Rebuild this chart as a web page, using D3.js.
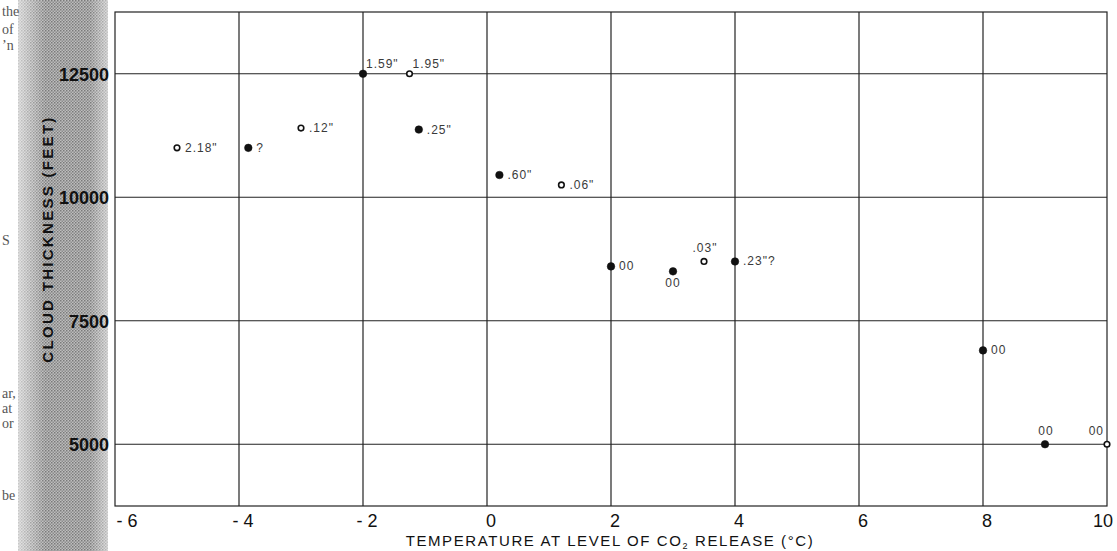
<!DOCTYPE html>
<html lang="en">
<head>
  <meta charset="UTF-8">
  <title>Cloud thickness vs temperature</title>
  <script src="https://d3js.org/d3.v7.min.js"></script>
  <style>
    html, body {
      margin: 0;
      padding: 0;
      background: #fff;
    }
    .grid line, .frame {
      stroke: #222;
      stroke-width: 1.2;
      fill: none;
    }
    .tick-y {
      font-family: "Liberation Sans", Arial, sans-serif;
      font-size: 18px;
      font-weight: bold;
      fill: #111;
    }
    .tick-x {
      font-family: "Liberation Sans", Arial, sans-serif;
      font-size: 18px;
      fill: #111;
    }
    .axis-title {
      font-family: "Liberation Sans", Arial, sans-serif;
      font-size: 15px;
      letter-spacing: 1.6px;
      fill: #111;
    }
    .axis-title.y-title {
      font-weight: bold;
      letter-spacing: 2.3px;
    }
    .pt-label {
      font-family: "Liberation Sans", Arial, sans-serif;
      font-size: 12px;
      letter-spacing: 1px;
      fill: #3a3a3a;
    }
    .margin-text {
      font-family: "Liberation Serif", serif;
      font-size: 14px;
      fill: #555;
    }
  </style>
</head>
<body>
  <div id="container"></div>
  <script>
    const width = 1117;
    const height = 551;

    // temperature at level of CO2 release (deg C) and cloud thickness (feet)
    const temps     = [-5, -3.85, -3, -2, -1.25, -1.1, 0.2, 1.2, 2, 3, 3.5, 4, 8, 9, 10];
    const thickness = [11000, 11000, 11400, 12500, 12500, 11370, 10450, 10250, 8600, 8500, 8700, 8700, 6900, 5000, 5000];
    const filled    = [false, true, false, true, false, true, true, false, true, true, false, true, true, true, false];
    const labels    = ['2.18"', '?', '.12"', '1.59"', '1.95"', '.25"', '.60"', '.06"', '00', '00', '.03"', '.23"?', '00', '00', '00'];

    const xTicks = [-6, -4, -2, 0, 2, 4, 6, 8, 10];
    const yTicks = [5000, 7500, 10000, 12500];

    // where each point's label sits relative to the point
    const labelPlace = ['r', 'r', 'r', 'ar', 'ar', 'r', 'r', 'r', 'r', 'b', 'a', 'r', 'r', 'a', 'al'];

    const svg = d3.select('#container').append('svg')
      .attr('width', width).attr('height', height);

    // scanned page margin on the left
    const defs = svg.append('defs');
    const pat = defs.append('pattern').attr('id', 'dither')
      .attr('width', 3).attr('height', 3).attr('patternUnits', 'userSpaceOnUse');
    pat.append('rect').attr('width', 3).attr('height', 3).attr('fill', '#bdbdbd');
    pat.append('rect').attr('width', 1.5).attr('height', 1.5).attr('fill', '#7a7a7a');
    pat.append('rect').attr('x', 1.5).attr('y', 1.5).attr('width', 1.5).attr('height', 1.5).attr('fill', '#8c8c8c');

    const fade = defs.append('linearGradient').attr('id', 'fade');
    fade.append('stop').attr('offset', '0%').attr('stop-color', '#fff').attr('stop-opacity', 0.6);
    fade.append('stop').attr('offset', '30%').attr('stop-color', '#fff').attr('stop-opacity', 0);
    fade.append('stop').attr('offset', '80%').attr('stop-color', '#fff').attr('stop-opacity', 0);
    fade.append('stop').attr('offset', '100%').attr('stop-color', '#fff').attr('stop-opacity', 0.5);

    svg.append('rect').attr('x', 18).attr('y', 0).attr('width', 90).attr('height', height)
      .attr('fill', 'url(#dither)');
    svg.append('rect').attr('x', 18).attr('y', 0).attr('width', 90).attr('height', height)
      .attr('fill', 'url(#fade)');

    const margins = [['the', 16], ['of', 34], ['\u2019n', 50], ['S', 245], ['ar,', 398], ['at', 413], ['or', 428], ['be', 500]];
    svg.selectAll('.margin-text').data(margins).join('text')
      .attr('class', 'margin-text')
      .attr('x', 2).attr('y', d => d[1]).text(d => d[0]);

    // plot area
    const x = d3.scaleLinear().domain([-6, 10]).range([115, 1107]);
    const y = d3.scaleLinear().domain([3750, 13750]).range([506, 12]);

    svg.append('rect').attr('class', 'frame')
      .attr('x', x(-6)).attr('y', y(13750))
      .attr('width', x(10) - x(-6)).attr('height', y(3750) - y(13750))
      .attr('fill', '#fff');

    const grid = svg.append('g').attr('class', 'grid');
    grid.selectAll('.vx').data(xTicks.slice(1, -1)).join('line')
      .attr('x1', d => x(d)).attr('x2', d => x(d))
      .attr('y1', y(13750)).attr('y2', y(3750));
    grid.selectAll('.hy').data(yTicks).join('line')
      .attr('x1', x(-6)).attr('x2', x(10))
      .attr('y1', d => y(d)).attr('y2', d => y(d));

    // tick labels
    svg.selectAll('.tick-y').data(yTicks).join('text')
      .attr('class', 'tick-y')
      .attr('x', x(-6) - 6).attr('y', d => y(d) + 7)
      .attr('text-anchor', 'end')
      .text(d => d);

    svg.selectAll('.tick-x').data(xTicks).join('text')
      .attr('class', 'tick-x')
      .attr('x', (d, i) => x(d) + (i === 0 ? 12 : i === xTicks.length - 1 ? -4 : 4))
      .attr('y', y(3750) + 21)
      .attr('text-anchor', 'middle')
      .text(d => d < 0 ? '- ' + Math.abs(d) : d);

    // axis titles
    const xt = svg.append('text').attr('class', 'axis-title')
      .attr('x', 610).attr('y', 546).attr('text-anchor', 'middle');
    xt.append('tspan').text('TEMPERATURE AT LEVEL OF CO');
    xt.append('tspan').attr('font-size', 9).attr('dy', 3).text('2');
    xt.append('tspan').attr('dy', -3).text(' RELEASE (\u00B0C)');

    svg.append('text').attr('class', 'axis-title y-title')
      .attr('transform', `translate(53, 239) rotate(-90)`)
      .attr('text-anchor', 'middle')
      .text('CLOUD THICKNESS (FEET)');

    // points
    const pts = temps.map((t, i) => ({ t, h: thickness[i], f: filled[i], lab: labels[i], p: labelPlace[i] }));

    svg.selectAll('.pt').data(pts).join('circle')
      .attr('class', 'pt')
      .attr('cx', d => x(d.t)).attr('cy', d => y(d.h))
      .attr('r', d => d.f ? 3.8 : 2.8)
      .attr('fill', d => d.f ? '#111' : '#fff')
      .attr('stroke', '#111')
      .attr('stroke-width', d => d.f ? 0.5 : 1.6);

    const off = {
      r:  { dx: 8,  dy: 4,   a: 'start' },
      ar: { dx: 3,  dy: -6,  a: 'start' },
      a:  { dx: 1,  dy: -9,  a: 'middle' },
      b:  { dx: 0,  dy: 16,  a: 'middle' },
      al: { dx: -3, dy: -9,  a: 'end' }
    };

    svg.selectAll('.pt-label').data(pts).join('text')
      .attr('class', 'pt-label')
      .attr('x', d => x(d.t) + off[d.p].dx)
      .attr('y', d => y(d.h) + off[d.p].dy)
      .attr('text-anchor', d => off[d.p].a)
      .text(d => d.lab);
  </script>
</body>
</html>
